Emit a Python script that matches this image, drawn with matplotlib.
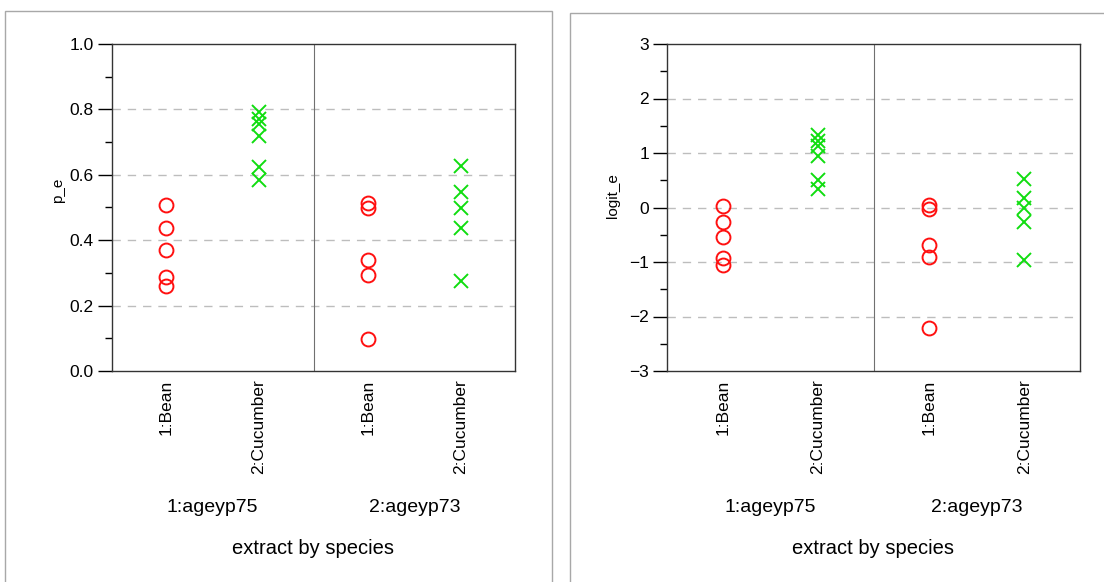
import matplotlib
matplotlib.use("Agg")
import matplotlib.pyplot as plt
from matplotlib.patches import Rectangle
from matplotlib.ticker import MultipleLocator, FuncFormatter

plt.rcParams["font.family"] = ["Liberation Sans", "DejaVu Sans"]

# ---------------------------------------------------------------- data
groups = ["1:ageyp75", "2:ageyp73"]
species = ["1:Bean", "2:Cucumber"]

p_e_bean_75 = [0.508, 0.437, 0.370, 0.287, 0.260]
p_e_cuc_75 = [0.791, 0.772, 0.756, 0.719, 0.625, 0.584]
p_e_bean_73 = [0.513, 0.498, 0.340, 0.295, 0.098]
p_e_cuc_73 = [0.627, 0.546, 0.497, 0.437, 0.274]

logit_e_bean_75 = [0.03, -0.26, -0.54, -0.92, -1.05]
logit_e_cuc_75 = [1.33, 1.22, 1.13, 0.94, 0.51, 0.34]
logit_e_bean_73 = [0.04, -0.02, -0.69, -0.90, -2.21]
logit_e_cuc_73 = [0.52, 0.17, -0.01, -0.26, -0.97]

RED = "#ff1010"
GREEN = "#10dd10"
GRAY = "#a8a8a8"
W, H = 1104, 582


def px_rect(x0, y0, x1, y1):
    """pixel box (top-left origin) -> figure fraction rect"""
    return [x0 / W, 1 - y1 / H, (x1 - x0) / W, (y1 - y0) / H]


def panel(fig, rect, series, ylabel, ylim, major, minor, ylabfmt, label_y):
    ax = fig.add_axes(rect)
    offs = [0.27, 0.73]
    for gi in range(len(groups)):
        bean, cuc = series[gi]
        ax.plot([gi + offs[0]] * len(bean), bean, "o", ms=10, mfc="none",
                mec=RED, mew=1.4, clip_on=False)
        ax.plot([gi + offs[1]] * len(cuc), cuc, "x", ms=10, color=GREEN,
                mew=1.4, clip_on=False)
    ax.set_xlim(0, len(groups))
    ax.set_ylim(*ylim)
    ax.axvline(1, color="#707070", lw=0.8)
    ax.yaxis.set_major_locator(MultipleLocator(major))
    ax.yaxis.set_minor_locator(MultipleLocator(minor))
    ax.yaxis.set_major_formatter(ylabfmt)
    for v in ax.get_yticks():
        if ylim[0] < v < ylim[1] - 1e-9:
            ax.axhline(v, color="#bdbdbd", lw=1.0, ls=(0, (6, 5)), zorder=0)
    ax.tick_params(axis="y", which="major", length=10, width=1, labelsize=12.5,
                   direction="out", pad=3)
    ax.tick_params(axis="y", which="minor", length=5, width=1, direction="out")
    xt = [gi + o for gi in range(len(groups)) for o in offs]
    ax.set_xticks(xt)
    ax.set_xticklabels(species * len(groups), rotation=90, fontsize=12.5,
                       va="top")
    ax.tick_params(axis="x", length=0, pad=6)
    for s in ax.spines.values():
        s.set_color("#333333")
        s.set_linewidth(1.0)
    ax.set_ylabel(ylabel, fontsize=11, va="center")
    ax_w = rect[2] * W
    ax.yaxis.set_label_coords(-54 / ax_w, label_y)
    for gi, g in enumerate(groups):
        ax.annotate(g, xy=(gi + 0.5, 0), xycoords=("data", "axes fraction"),
                    xytext=(0, -137 * 0.72), textcoords="offset points",
                    ha="center", va="center", fontsize=14)
    ax.annotate("extract by species", xy=(0.5, 0), xycoords="axes fraction",
                xytext=(0, -177 * 0.72), textcoords="offset points",
                ha="center", va="center", fontsize=14.5)
    return ax


fig = plt.figure(figsize=(W / 100, H / 100), dpi=100)

# panel frames
fig.patches.append(Rectangle((5 / W, -0.1), 547 / W, 1.1 - 11 / H,
                             transform=fig.transFigure, fill=False,
                             ec=GRAY, lw=1.0))
fig.patches.append(Rectangle((570 / W, -0.1), 600 / W, 1.1 - 13 / H,
                             transform=fig.transFigure, fill=False,
                             ec=GRAY, lw=1.0))

panel(fig, px_rect(112, 44, 515, 371),
      [(p_e_bean_75, p_e_cuc_75), (p_e_bean_73, p_e_cuc_73)],
      "p_e", (0, 1), 0.2, 0.1, "{x:.1f}", 0.553)
panel(fig, px_rect(667, 44, 1080, 371),
      [(logit_e_bean_75, logit_e_cuc_75), (logit_e_bean_73, logit_e_cuc_73)],
      "logit_e", (-3, 3), 1, 0.5,
      FuncFormatter(lambda v, p: f"{v:.0f}".replace("-", "\u2212")), 0.538)

fig.savefig("out.png", dpi=100)
